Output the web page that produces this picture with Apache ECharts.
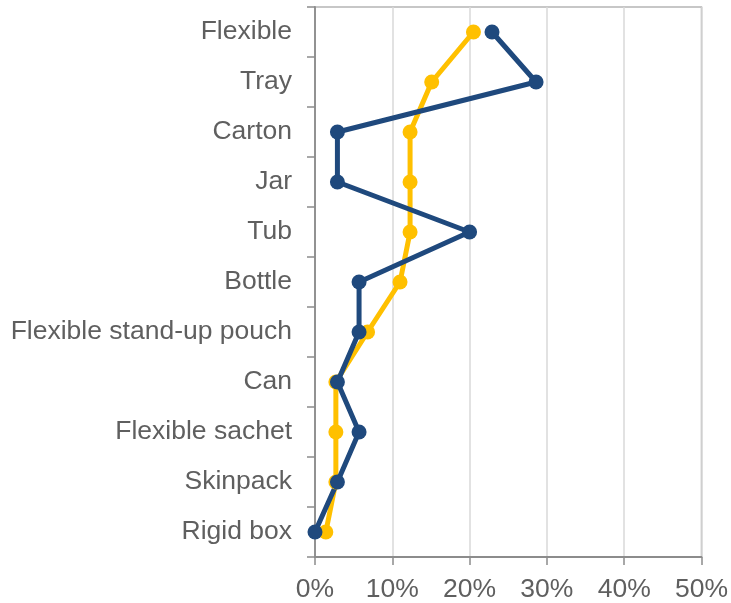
<!DOCTYPE html>
<html>
<head>
<meta charset="utf-8">
<script src="https://cdn.jsdelivr.net/npm/echarts@6/dist/echarts.min.js"></script>
<style>
  html, body { margin: 0; padding: 0; background: #ffffff; }
  #chart { width: 731px; height: 603px; }
</style>
</head>
<body>
<div id="chart"></div>
<script>
// Packaging formats, listed top to bottom
const categories = ['Flexible', 'Tray', 'Carton', 'Jar', 'Tub', 'Bottle',
  'Flexible stand-up pouch', 'Can', 'Flexible sachet', 'Skinpack', 'Rigid box'];

// Share of each format, in percent
const seriesA = [20.5, 15.1, 12.3, 12.3, 12.3, 11.0, 6.8, 2.7, 2.7, 2.7, 1.4];
const seriesB = [22.9, 28.6, 2.9, 2.9, 20.0, 5.7, 5.7, 2.9, 5.7, 2.9, 0.0];

// Value axis ticks
const xTicks = { min: 0, max: 50, interval: 10 };

const labelFont = { fontFamily: '"Liberation Sans", Arial, sans-serif', fontSize: 26.5, color: '#5f5f5f' };

const chart = echarts.init(document.getElementById('chart'), null, { renderer: 'canvas' });

function lineSeries(name, values, color) {
  return {
    name: name,
    type: 'line',
    data: values,
    symbol: 'circle',
    symbolSize: 15,
    clip: false,
    lineStyle: { color: color, width: 5 },
    itemStyle: { color: color },
    emphasis: { disabled: true }
  };
}

chart.setOption({
  animation: false,
  grid: {
    left: 315, right: 26, top: 7, bottom: 46,
    show: true, borderColor: '#b5b5b5', borderWidth: 1.5, backgroundColor: 'transparent'
  },
  xAxis: {
    type: 'value',
    min: xTicks.min, max: xTicks.max, interval: xTicks.interval,
    axisLine: { show: true, lineStyle: { color: '#8c8c8c', width: 1.8 } },
    axisTick: { show: true, length: 8, lineStyle: { color: '#8c8c8c', width: 1.5 } },
    splitLine: { show: true, lineStyle: { color: '#d9d9d9', width: 1.5 } },
    axisLabel: Object.assign({ margin: 19, formatter: v => v + '%' }, labelFont)
  },
  yAxis: {
    type: 'category',
    data: categories,
    inverse: true,
    axisLine: { show: true, lineStyle: { color: '#8c8c8c', width: 1.8 } },
    axisTick: { show: true, length: 8, lineStyle: { color: '#8c8c8c', width: 1.5 } },
    splitLine: { show: false },
    axisLabel: Object.assign({ margin: 23, padding: [3, 0, 0, 0] }, labelFont)
  },
  series: [
    lineSeries('A', seriesA, '#FFC000'),
    lineSeries('B', seriesB, '#1F497D')
  ]
});
</script>
</body>
</html>
